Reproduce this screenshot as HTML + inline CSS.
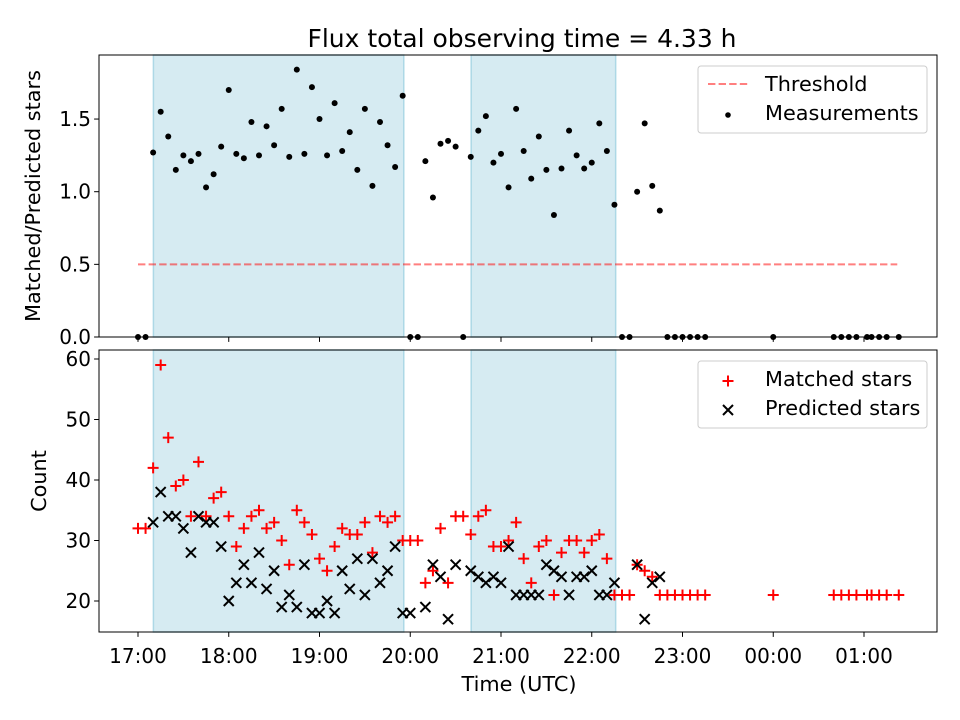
<!DOCTYPE html>
<html><head><meta charset="utf-8"><style>
body{margin:0;background:#fff}
svg{display:block;font-family:"DejaVu Sans","Liberation Sans",sans-serif}
</style></head><body>
<svg id="chart" width="960" height="720" viewBox="0 0 960 720" xmlns="http://www.w3.org/2000/svg">
<text x="522" y="47" text-anchor="middle" font-size="25">Flux total observing time = 4.33 h</text>
<g id="topPanel"></g>
<g id="botPanel"></g>
<text transform="translate(40,196) rotate(-90)" text-anchor="middle" font-size="20.8">Matched/Predicted stars</text>
<text transform="translate(46,481) rotate(-90)" text-anchor="middle" font-size="20.8">Count</text>
<text x="519" y="691" text-anchor="middle" font-size="20.8">Time (UTC)</text>
</svg>
<script>
// minutes after 17:00 UTC
const times = [0,5,10,15,20,25,30,35,40,45,50,55,60,65,70,75,80,85,90,95,100,105,110,115,120,125,130,135,140,145,150,155,160,165,170,175,180,185,190,195,200,205,210,215,220,225,230,235,240,245,250,255,260,265,270,275,280,285,290,295,300,305,310,315,320,325,330,335,340,345,350,355,360,365,370,375,420,460,465,470,475,482,485,490,495,503];
const ratio = [0,0,1.27,1.55,1.38,1.15,1.25,1.21,1.26,1.03,1.12,1.31,1.70,1.26,1.23,1.48,1.25,1.45,1.32,1.57,1.24,1.84,1.26,1.72,1.50,1.25,1.61,1.28,1.41,1.15,1.57,1.04,1.48,1.32,1.17,1.66,0,0,1.21,0.96,1.33,1.35,1.31,0,1.24,1.42,1.52,1.20,1.26,1.03,1.57,1.28,1.09,1.38,1.15,0.84,1.16,1.42,1.25,1.16,1.20,1.47,1.28,0.91,0,0,1.00,1.47,1.04,0.87,0,0,0,0,0,0,0,0,0,0,0,0,0,0,0,0];
const matched = [32,32,42,59,47,39,40,34,43,34,37,38,34,29,32,34,35,32,33,30,26,35,33,31,27,25,29,32,31,31,33,28,34,33,34,30,30,30,23,25,32,23,34,34,31,34,35,29,29,30,33,27,23,29,30,21,28,30,30,28,30,31,27,21,21,21,26,25,24,21,21,21,21,21,21,21,21,21,21,21,21,21,21,21,21,21];
const predicted = [null,null,33,38,34,34,32,28,34,33,33,29,20,23,26,23,28,22,25,19,21,19,26,18,18,20,18,25,22,27,21,27,23,25,29,18,18,null,19,26,24,17,26,null,25,24,23,24,23,29,21,21,21,21,26,25,24,21,24,24,25,21,21,23,null,null,26,17,23,24,null,null,null,null,null,null,null,null,null,null,null,null,null,null,null,null];
const shaded = [[10.2,175.7],[220.3,315.8]];
const threshold = 0.5, thrStart = 0, thrEnd = 502;
const xTickVals = [0,60,120,180,240,300,360,420,480];
const xTickLabels = ["17:00","18:00","19:00","20:00","21:00","22:00","23:00","00:00","01:00"];
const topTicks = [0,0.5,1.0,1.5];
const botTicks = [20,30,40,50,60];

const NS="http://www.w3.org/2000/svg";
const L=99,R=937;
const X=m=>138+(m)*90.75/60;
const TY=v=>337-v*145.3;
const BY=v=>601-(v-20)*6.05;
function el(p,t,a){const e=document.createElementNS(NS,t);for(const k in a)e.setAttribute(k,a[k]);p.appendChild(e);return e;}
const topG=document.getElementById('topPanel'), botG=document.getElementById('botPanel');

function panel(g,y0,y1,Y,ticks,fmt,labelsX,name){
  for(const s of shaded){
    const r=el(g,'rect',{x:X(s[0]),y:y0,width:X(s[1])-X(s[0]),height:y1-y0,fill:'#add8e6','fill-opacity':0.5,stroke:'#add8e6','stroke-width':1.5});
    
    
  }
  ticks.forEach(v=>{
    const y=Y(v);
    el(g,'line',{x1:L-4.9,x2:L,y1:y,y2:y,stroke:'#000','stroke-width':1});
    const t=el(g,'text',{x:L-8,y:y+7,'text-anchor':'end','font-size':20});
    t.textContent=fmt(v);
    
    
  });
  xTickVals.forEach((v,i)=>{
    el(g,'line',{x1:X(v),x2:X(v),y1:y1,y2:y1+4.9,stroke:'#000','stroke-width':1});
    if(labelsX){
      const t=el(g,'text',{x:X(v),y:y1+31,'text-anchor':'middle','font-size':20});
      t.textContent=xTickLabels[i];
      
      
    }
  });
}
panel(topG,55,337,TY,topTicks,v=>v.toFixed(1),false,'top');
panel(botG,350,632,BY,botTicks,v=>String(v),true,'bottom');

const th=el(topG,'line',{x1:X(thrStart),x2:X(thrEnd),y1:TY(threshold),y2:TY(threshold),stroke:'#ff0000','stroke-opacity':0.5,'stroke-width':2,'stroke-dasharray':'7.4,3.2'});


times.forEach((t,i)=>{
  const c=el(topG,'circle',{cx:X(t),cy:TY(ratio[i]),r:3,fill:'#000'});
  
  
});
times.forEach((t,i)=>{
  const x=X(t),y=BY(matched[i]);
  const p=el(botG,'path',{d:`M${x-5.5},${y}H${x+5.5}M${x},${y-5.5}V${y+5.5}`,stroke:'#ff0000','stroke-width':2});
  
  
});
times.forEach((t,i)=>{
  if(predicted[i]===null)return;
  const x=X(t),y=BY(predicted[i]);
  const p=el(botG,'path',{d:`M${x-5},${y-5}L${x+5},${y+5}M${x-5},${y+5}L${x+5},${y-5}`,stroke:'#000','stroke-width':2});
  
  
});
el(topG,'rect',{x:L,y:55,width:R-L,height:282,fill:'none',stroke:'#000','stroke-width':1});
el(botG,'rect',{x:L,y:350,width:R-L,height:282,fill:'none',stroke:'#000','stroke-width':1});

function legend(g,y,name,items){
  const box=el(g,'rect',{x:698,y:y,width:229,height:67,rx:3,fill:'#fff','fill-opacity':0.8,stroke:'#ccc','stroke-width':1});
  
  
  items.forEach((it,i)=>{
    const cy=y+18+i*29;
    it.draw(cy);
    const t=el(g,'text',{x:765,y:cy+7,'font-size':20.8});
    t.textContent=it.label;
    
    
  });
}
legend(topG,66,'top-legend',[
  {label:'Threshold',draw:cy=>el(topG,'line',{x1:708,x2:748,y1:cy,y2:cy,stroke:'#ff0000','stroke-opacity':0.5,'stroke-width':2,'stroke-dasharray':'7.4,3.2'})},
  {label:'Measurements',draw:cy=>el(topG,'circle',{cx:728,cy:cy+2,r:2.8,fill:'#000'})}
]);
legend(botG,361,'bottom-legend',[
  {label:'Matched stars',draw:cy=>el(botG,'path',{d:`M${722.5},${cy+2}H${733.5}M728,${cy-3.5}V${cy+7.5}`,stroke:'#ff0000','stroke-width':2})},
  {label:'Predicted stars',draw:cy=>el(botG,'path',{d:`M723,${cy-3}L733,${cy+7}M723,${cy+7}L733,${cy-3}`,stroke:'#000','stroke-width':2})}
]);
</script>
</body></html>
